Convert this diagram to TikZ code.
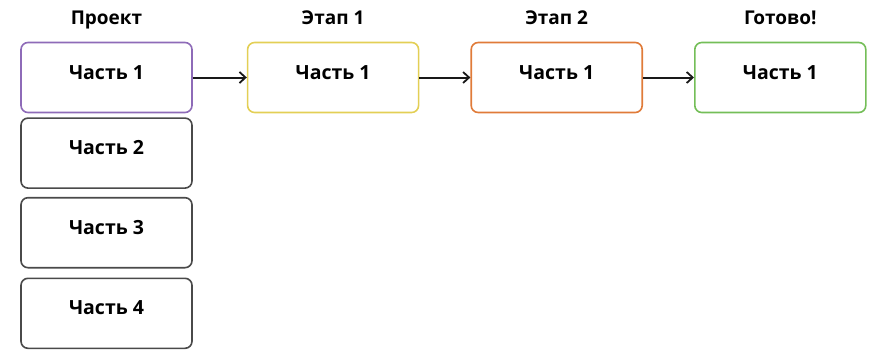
\documentclass[tikz,border=0pt]{standalone}
\usepackage{fontspec}
\setmainfont{Open Sans}
\usepackage{tikz}
\usepackage{xcolor}
\usetikzlibrary{positioning,arrows.meta}
\definecolor{projpurple}{HTML}{8E6BB8}
\definecolor{stageyellow}{HTML}{E3CF55}
\definecolor{stageorange}{HTML}{E07B39}
\definecolor{donegreen}{HTML}{74BE58}
\definecolor{partgray}{HTML}{4A4A4A}
\tikzstyle{part} = [rectangle, draw=partgray, line width=1.6pt, rounded corners=7pt, fill=white, minimum width=171pt, text height=13pt, text depth=10pt, inner xsep=4pt, inner ysep=23.5pt, font=\fontsize{19.5}{22}\selectfont\bfseries]
\tikzstyle{head} = [inner sep=0pt, text height=13.5pt, text depth=4pt, font=\fontsize{19}{22}\selectfont\bfseries]

\begin{document}
\begin{tikzpicture}[-{Straight Barb[length=6pt,width=11pt,line width=1.8pt]},x=1pt,y=1pt,
  every edge/.style={draw=black!90,line width=2pt}]
  \useasboundingbox (0,0) rectangle (870,-351);
  \node[part,draw=projpurple] (P1) at (106.5,-77.5) {Часть 1};
  \node[part] (P2) [below=4pt of P1] {Часть 2};
  \node[part] (P3) [below=8pt of P2] {Часть 3};
  \node[part] (P4) [below=9pt of P3] {Часть 4};
  \node[part,draw=stageyellow] (S1) [right=54pt of P1] {Часть 1};
  \node[part,draw=stageorange] (S2) [right=51pt of S1] {Часть 1};
  \node[part,draw=donegreen] (S3) [right=51pt of S2] {Часть 1};
  \node[head] (H0) [above=13pt of P1] {Проект};
  \node[head] (H1) [above=13pt of S1] {Этап 1};
  \node[head] (H2) [above=13pt of S2] {Этап 2};
  \node[head] (H3) [above=13pt of S3] {Готово!};

  \path (P1) edge (S1);
  \path (S1) edge (S2);
  \path (S2) edge (S3);
\end{tikzpicture}
\end{document}
